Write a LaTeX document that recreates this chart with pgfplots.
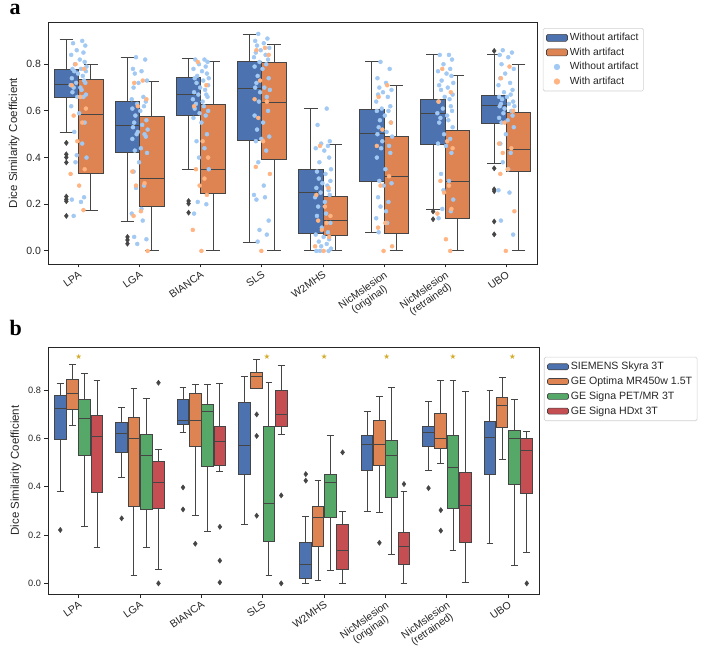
\documentclass[border=0pt]{standalone}
\usepackage{fontspec}
\setmainfont{Liberation Sans}
\newfontfamily\serifb{Liberation Serif}
\newfontfamily\sym{DejaVu Sans}
\usepackage{pgfplots}
\usepackage{pgfplotstable}
\usepgfplotslibrary{statistics}
\pgfplotsset{compat=1.18}

\definecolor{cblue}{HTML}{4C72B0}
\definecolor{corange}{HTML}{DD8452}
\definecolor{cgreen}{HTML}{55A868}
\definecolor{cred}{HTML}{C44E52}
\definecolor{pblue}{HTML}{A1C9F4}
\definecolor{porange}{HTML}{FFB482}
\definecolor{edge}{HTML}{454545}
\definecolor{spine}{HTML}{262626}
\definecolor{starc}{HTML}{D4AC2B}

% strip points, panel a (columns: jitter, one column per tool)
\pgfplotstableread{
j c0 c1 c2 c3 c4 c5 c6 c7
0.06 .90 .83 .82 .93 .61 .81 .84 .86
-0.09 .89 .82 .82 .91 .54 .78 .84 .85
0.11 .88 .78 .81 .90 .47 .74 .82 .84
-0.03 .86 .77 .80 .89 .46 .72 .80 .83
0.08 .85 .76 .79 .88 .45 .70 .78 .80
-0.12 .84 .73 .78 .87 .44 .69 .77 .78
0.02 .82 .72 .77 .86 .43 .68 .76 .76
0.10 .81 .70 .76 .85 .40 .67 .75 .74
-0.06 .80 .66 .75 .84 .38 .66 .73 .72
0.13 .79 .65 .74 .83 .35 .64 .72 .71
-0.10 .78 .64 .74 .82 .34 .62 .71 .69
0.04 .78 .63 .73 .81 .33 .61 .70 .68
-0.07 .77 .62 .72 .80 .31 .60 .69 .67
0.12 .77 .61 .71 .79 .30 .60 .67 .66
-0.01 .76 .60 .70 .78 .29 .58 .66 .66
0.07 .75 .58 .69 .75 .28 .56 .65 .65
-0.11 .74 .56 .68 .74 .27 .55 .64 .64
0.09 .73 .55 .67 .72 .26 .53 .62 .63
-0.04 .72 .54 .67 .70 .25 .51 .61 .63
0.11 .72 .53 .66 .70 .24 .50 .60 .62
-0.13 .71 .52 .65 .69 .23 .49 .59 .62
0.03 .70 .51 .64 .68 .21 .47 .58 .61
-0.08 .70 .50 .63 .66 .19 .45 .57 .60
0.05 .69 .50 .62 .64 .16 .44 .56 .59
-0.10 .68 .49 .61 .60 .15 .42 .55 .58
0.12 .67 .48 .60 .58 .12 .40 .53 .57
-0.02 .66 .44 .59 .55 .10 .35 .50 .56
0.08 .66 .43 .58 .52 .08 .30 .48 .55
-0.12 .62 .42 .57 .49 .07 .29 .46 .53
0.01 .59 .38 .55 .48 .06 .28 .45 .50
0.10 .55 .34 .50 .47 .05 .23 .42 .46
-0.07 .51 .28 .47 .43 .04 .21 .33 .42
0.06 .46 .27 .44 .38 .03 .19 .30 .38
-0.03 .41 .18 .40 .28 .02 .17 .26 .35
0.13 .40 .16 .35 .24 .01 .14 .22 .26
-0.05 .38 .13 .21 .23 .00 .12 .18 .25
0.09 .23 .06 .20 .22 .00 .08 .17 .13
-0.11 .22 .05 .16 .13 .00 nan .14 .07
0.04 .21 .03 nan .09 nan nan nan nan
-0.08 .15 nan nan .07 nan nan nan nan
0.07 nan nan nan .04 nan nan nan nan
}\bluepts

\pgfplotstableread{
j c0 c1 c2 c3 c4 c5 c6 c7
-0.05 .80 .73 .81 .87 .45 .71 .78 .79
0.09 .78 .72 .71 .86 .27 .66 .68 .74
-0.11 .71 .65 .62 .84 .24 .55 .64 .60
0.03 .66 .62 .47 .73 .19 .52 .47 .55
0.12 .61 .34 .40 .65 .15 .45 .44 .46
-0.08 .58 .29 .35 .64 .13 .32 .30 .44
0.06 .55 .28 .31 .57 .12 .28 .28 .42
-0.02 .47 .17 .28 .47 .09 .12 .25 .35
0.10 .35 .15 .24 .36 .06 .10 .18 .33
-0.13 .33 .00 .09 .33 .02 .02 .16 .17
0.01 .28 nan .00 .00 .00 .00 .05 .00
0.08 .175 nan nan nan nan nan .00 nan
}\orangepts

% position, colour, lower whisker, Q1, median, Q3, upper whisker, outliers
\newcommand{\bp}[8]{\addplot[forget plot, boxplot prepared={draw position=#1,
  lower whisker=#3, lower quartile=#4, median=#5, upper quartile=#6, upper whisker=#7},
  fill=#2, draw=edge, line width=1pt, mark=diamond*, mark size=2.6pt,
  mark options={fill=edge, draw=edge, line width=0.4pt, solid}] coordinates {#8};}

\pgfplotsset{dsc/.style={scale only axis, anchor=south west, xmin=-0.5, xmax=7.5,
  boxplot/draw direction=y,
  xtick={0,...,7},
  xticklabels={LPA,LGA,BIANCA,SLS,W2MHS,{NicMslesion\\(original)},{NicMslesion\\(retrained)},UBO},
  xticklabel style={rotate=35, anchor=north east, align=center, inner sep=2pt,
    font=\fontsize{10.5}{11}\selectfont, text=spine},
  ytick={0,0.2,0.4,0.6,0.8},
  /pgf/number format/assume math mode=true,
  yticklabel style={/pgf/number format/fixed, /pgf/number format/fixed zerofill, /pgf/number format/precision=1},
  tick align=outside, tick pos=left, major tick length=3.5pt,
  axis line style={spine, line width=0.9pt}, tick style={spine, line width=0.9pt},
  ylabel={Dice Similarity Coefficient}, ylabel style={font=\fontsize{11.5}{13}\selectfont, text=spine},
  legend cell align=left,
  legend style={anchor=north west, draw=black!18, rounded corners=1.5pt, line width=0.6pt,
    font=\fontsize{10.3}{12}\selectfont, row sep=1.6pt, inner xsep=3pt, inner ysep=3pt, text=spine},
}}

\begin{document}
\begin{tikzpicture}
\path[use as bounding box] (0,0) rectangle (716pt,-647pt);
\node[anchor=base west, font=\serifb\bfseries\fontsize{22}{22}\selectfont] at (6pt,-15pt) {a};
\node[anchor=base west, font=\serifb\bfseries\fontsize{22}{22}\selectfont] at (6pt,-336pt) {b};

% ---------------- panel a
\begin{axis}[dsc, at={(48pt,-264pt)}, width=489pt, height=242pt, ymin=-0.056, ymax=0.981,
  yticklabel style={font=\fontsize{10.5}{12}\selectfont, text=spine},
  boxplot/box extend=0.4, boxplot/whisker extend=0.22,
  legend style={at={(1.012,0.975)}}]
\bp{-0.2}{cblue}{0.509}{0.657}{0.714}{0.779}{0.906}{(0,0.463)(0,0.414)(0,0.401)(0,0.379)(0,0.233)(0,0.221)(0,0.213)(0,0.15)}
\bp{0.2}{corange}{0.174}{0.331}{0.583}{0.736}{0.797}{}
\bp{0.8}{cblue}{0.127}{0.421}{0.539}{0.641}{0.83}{(0,0.06)(0,0.047)(0,0.031)}
\bp{1.2}{corange}{0}{0.191}{0.31}{0.577}{0.727}{}
\bp{1.8}{cblue}{0.349}{0.58}{0.67}{0.744}{0.823}{(0,0.214)(0,0.203)(0,0.164)}
\bp{2.2}{corange}{0}{0.244}{0.35}{0.626}{0.81}{}
\bp{2.8}{cblue}{0.034}{0.474}{0.697}{0.813}{0.929}{}
\bp{3.2}{corange}{0}{0.39}{0.636}{0.806}{0.884}{}
\bp{3.8}{cblue}{0}{0.073}{0.249}{0.349}{0.61}{}
\bp{4.2}{corange}{0}{0.066}{0.13}{0.234}{0.454}{}
\bp{4.8}{cblue}{0.077}{0.297}{0.504}{0.604}{0.811}{}
\bp{5.2}{corange}{0}{0.074}{0.32}{0.49}{0.711}{}
\bp{5.8}{cblue}{0.177}{0.456}{0.591}{0.647}{0.843}{(0,0.169)(0,0.136)}
\bp{6.2}{corange}{0}{0.14}{0.299}{0.516}{0.753}{}
\bp{6.8}{cblue}{0.376}{0.547}{0.623}{0.664}{0.843}{(0,0.857)(0,0.354)(0,0.264)(0,0.256)(0,0.126)(0,0.071)}
\bp{7.2}{corange}{0}{0.34}{0.436}{0.594}{0.797}{}
\pgfplotsinvokeforeach{0,...,7}{
  \addplot[forget plot, only marks, mark=*, mark size=2pt, color=pblue]
    table[x expr={#1+\thisrow{j}*(1-2*mod(#1,2))}, y=c#1] {\bluepts};
  \addplot[forget plot, only marks, mark=*, mark size=2pt, color=porange]
    table[x expr={#1+\thisrow{j}*(1-2*mod(#1,2))}, y=c#1] {\orangepts};
}
\addlegendimage{legend image code/.code={\draw[fill=cblue, draw=edge, line width=0.6pt] (0pt,-3.5pt) rectangle (21pt,3.5pt);}}
\addlegendentry{Without artifact}
\addlegendimage{legend image code/.code={\draw[fill=corange, draw=edge, line width=0.6pt] (0pt,-3.5pt) rectangle (21pt,3.5pt);}}
\addlegendentry{With artifact}
\addlegendimage{legend image code/.code={\fill[pblue] (10.5pt,0pt) circle (2.8pt);}}
\addlegendentry{Without artifact}
\addlegendimage{legend image code/.code={\fill[porange] (10.5pt,0pt) circle (2.8pt);}}
\addlegendentry{With artifact}
\end{axis}

% ---------------- panel b
\begin{axis}[dsc, at={(48pt,-594pt)}, width=491pt, height=247pt, ymin=-0.044, ymax=0.978,
  yticklabel style={font=\fontsize{9.2}{11}\selectfont, text=spine},
  boxplot/box extend=0.19, boxplot/whisker extend=0.11,
  legend style={at={(1.01,0.96)}, font=\fontsize{10.6}{12}\selectfont}]
\bp{-0.3}{cblue}{0.379}{0.596}{0.724}{0.779}{0.828}{(0,0.221)}
\bp{-0.1}{corange}{0.654}{0.72}{0.786}{0.844}{0.906}{}
\bp{0.1}{cgreen}{0.234}{0.528}{0.683}{0.759}{0.869}{}
\bp{0.3}{cred}{0.149}{0.375}{0.607}{0.694}{0.839}{}
\bp{0.7}{cblue}{0.44}{0.541}{0.621}{0.666}{0.726}{(0,0.269)}
\bp{0.9}{corange}{0.034}{0.317}{0.6}{0.687}{0.807}{}
\bp{1.1}{cgreen}{0.148}{0.306}{0.53}{0.614}{0.763}{}
\bp{1.3}{cred}{0.058}{0.31}{0.418}{0.503}{0.554}{(0,0.83)(0,0.0)}
\bp{1.7}{cblue}{0.626}{0.658}{0.673}{0.761}{0.811}{(0,0.397)(0,0.306)}
\bp{1.9}{corange}{0.281}{0.566}{0.673}{0.786}{0.823}{(0,0.164)}
\bp{2.1}{cgreen}{0.214}{0.484}{0.71}{0.741}{0.821}{}
\bp{2.3}{cred}{0.463}{0.486}{0.586}{0.648}{0.825}{(0,0.234)(0,0.094)(0,0.004)}
\bp{2.7}{cblue}{0.244}{0.45}{0.571}{0.748}{0.857}{}
\bp{2.9}{corange}{0.806}{0.806}{0.858}{0.874}{0.928}{(0,0.699)(0,0.61)(0,0.28)}
\bp{3.1}{cgreen}{0.034}{0.174}{0.331}{0.648}{0.83}{}
\bp{3.3}{cred}{0.618}{0.648}{0.699}{0.796}{0.9}{(0,0.364)(0,0.0)}
\bp{3.7}{cblue}{0}{0.021}{0.076}{0.17}{0.276}{(0,0.452)(0,0.425)}
\bp{3.9}{corange}{0.011}{0.153}{0.273}{0.317}{0.425}{}
\bp{4.1}{cgreen}{0.055}{0.273}{0.418}{0.45}{0.61}{}
\bp{4.3}{cred}{0}{0.059}{0.135}{0.244}{0.298}{(0,0.542)}
\bp{4.7}{cblue}{0.298}{0.465}{0.575}{0.612}{0.713}{}
\bp{4.9}{corange}{0.295}{0.486}{0.574}{0.673}{0.775}{(0,0.168)}
\bp{5.1}{cgreen}{0.12}{0.354}{0.53}{0.59}{0.812}{}
\bp{5.3}{cred}{0}{0.079}{0.152}{0.21}{0.379}{(0,0.411)}
\bp{5.7}{cblue}{0.469}{0.568}{0.623}{0.651}{0.754}{(0,0.394)}
\bp{5.9}{corange}{0.497}{0.556}{0.601}{0.703}{0.841}{(0,0.303)(0,0.218)}
\bp{6.1}{cgreen}{0.137}{0.31}{0.48}{0.61}{0.841}{}
\bp{6.3}{cred}{0.003}{0.168}{0.324}{0.459}{0.793}{}
\bp{6.7}{cblue}{0.164}{0.45}{0.603}{0.668}{0.799}{}
\bp{6.9}{corange}{0.514}{0.646}{0.737}{0.768}{0.852}{}
\bp{7.1}{cgreen}{0.072}{0.408}{0.6}{0.634}{0.761}{}
\bp{7.3}{cred}{0.128}{0.37}{0.548}{0.599}{0.63}{(0,0.0)}
\addplot[forget plot, only marks, mark=text,
  text mark={\fontsize{7.5}{7.5}\selectfont\sym\textcolor{starc}{★}}]
  coordinates {(0,0.937) (3.07,0.937) (4,0.937) (5.02,0.937) (6.1,0.937) (7.07,0.937)};
\addlegendimage{legend image code/.code={\draw[fill=cblue, draw=edge, line width=0.6pt] (0pt,-3pt) rectangle (21pt,3pt);}}
\addlegendentry{SIEMENS Skyra 3T}
\addlegendimage{legend image code/.code={\draw[fill=corange, draw=edge, line width=0.6pt] (0pt,-3pt) rectangle (21pt,3pt);}}
\addlegendentry{GE Optima MR450w 1.5T}
\addlegendimage{legend image code/.code={\draw[fill=cgreen, draw=edge, line width=0.6pt] (0pt,-3pt) rectangle (21pt,3pt);}}
\addlegendentry{GE Signa PET/MR 3T}
\addlegendimage{legend image code/.code={\draw[fill=cred, draw=edge, line width=0.6pt] (0pt,-3pt) rectangle (21pt,3pt);}}
\addlegendentry{GE Signa HDxt 3T}
\end{axis}
\end{tikzpicture}
\end{document}
